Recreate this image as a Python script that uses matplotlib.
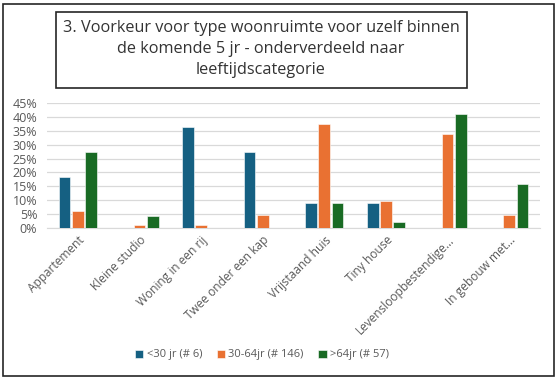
import matplotlib
matplotlib.use("Agg")
from matplotlib import pyplot as plt
from matplotlib.patches import Rectangle
from matplotlib.ticker import PercentFormatter
import numpy as np

plt.rcParams["font.family"] = ["Open Sans", "DejaVu Sans"]

categories = ["Appartement", "Kleine studio", "Woning in een rij", "Twee onder een kap",
              "Vrijstaand huis", "Tiny house", "Levensloopbestendige...", "In gebouw met..."]
series_names = ["<30 jr (# 6)", "30-64jr (# 146)", ">64jr (# 57)"]
under_30 = [18.2, 0, 36.4, 27.3, 9.1, 9.1, 0, 0]
age_30_64 = [6.0, 1.1, 1.1, 4.8, 37.5, 9.8, 33.9, 4.8]
over_64 = [27.3, 4.5, 0, 0, 9.1, 2.3, 40.9, 15.9]
colors = ["#156082", "#E97132", "#196B24"]
title = "3. Voorkeur voor type woonruimte voor uzelf binnen\nde komende 5 jr - onderverdeeld naar\nleeftijdscategorie"

W, H = 560, 380
fig = plt.figure(figsize=(W / 100, H / 100), dpi=100)

# outer frame and title box
fig.patches.append(Rectangle((3 / W, 4 / H), 551 / W, 372 / H, transform=fig.transFigure,
                             fill=False, edgecolor="#262626", linewidth=1.2))
fig.patches.append(Rectangle((56 / W, 1 - 88 / H), 411 / W, 76 / H, transform=fig.transFigure,
                             fill=False, edgecolor="#262626", linewidth=1.2))
fig.text(261 / W, 1 - 49 / H, title, ha="center", va="center", fontsize=11.7,
         color="#333333", linespacing=1.38)

ax = fig.add_axes([47 / W, 1 - 228 / H, 493 / W, 125 / H])
x = np.arange(len(categories))
width = 0.19
for i, (vals, name) in enumerate(zip([under_30, age_30_64, over_64], series_names)):
    ax.bar(x + (i - 1) * 0.215, vals, width, color=colors[i], label=name, zorder=3,
           edgecolor="white", linewidth=0.4)

ax.set_xlim(-0.5, len(categories) - 0.5)
ax.set_ylim(0, 45)
ax.set_yticks(np.arange(0, 46, 5))
ax.yaxis.set_major_formatter(PercentFormatter(decimals=0))
ax.grid(axis="y", color="#d9d9d9", linewidth=0.9, zorder=0)
for s in ["top", "right", "left"]:
    ax.spines[s].set_visible(False)
ax.spines["bottom"].set_color("#d9d9d9")
ax.tick_params(axis="y", length=0, labelsize=9, labelcolor="#595959", pad=7)
ax.tick_params(axis="x", length=0, labelsize=8.6, labelcolor="#595959", pad=4)
ax.set_xticks(x)
ax.set_xticklabels(categories, rotation=45, ha="right", rotation_mode="anchor")

fig.legend(loc="center", bbox_to_anchor=(262 / W, 1 - 355 / H), ncol=3, frameon=False,
           fontsize=8, handlelength=0.75, handleheight=0.75, handletextpad=0.3,
           columnspacing=1.3, labelcolor="#595959")

fig.savefig("out.png", dpi=100)
